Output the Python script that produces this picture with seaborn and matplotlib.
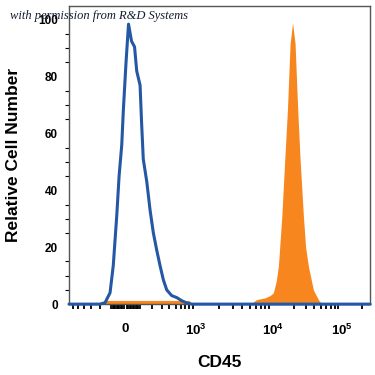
import numpy as np
import pandas as pd
import seaborn as sns
import matplotlib
matplotlib.use('Agg')
import matplotlib.pyplot as plt

# isotype control (blue outline), CD45 fluorescence vs % of max
control_cd45 = [-700, -200, -152, -110, -85, -59, -42, -23, -12, 6.5, 22.8, 42.6, 63, 78, 102,
                113, 126, 154, 182, 212, 245, 281, 320, 363, 435, 520, 618, 732, 874, 260000]
control_count = [0, 0, 0.5, 4, 13.5, 31, 45, 56, 68, 85, 98.5, 92.5, 90.5, 82, 77,
                 64, 51, 43, 33, 25, 19, 13.5, 8.5, 5, 3, 2.3, 1.2, 0.4, 0, 0]

# stained sample (orange filled)
stained_cd45 = [-700, -160, -150, 0, 400, 800, 830, 5074, 6190, 7940, 9220, 10200, 11200, 12060,
                13520, 15090, 16300, 17850, 19390, 21080, 23070, 24920, 27840, 30000, 32900,
                38870, 45940, 51480, 260000]
stained_count = [0, 0, 1.3, 1.3, 1.3, 1.3, 0, 0, 1.6, 2.2, 3, 4, 8, 13.3,
                 30.8, 53, 68, 91.6, 99, 91.6, 68, 51, 31, 20, 13.3,
                 5, 1.6, 0, 0]

y_ticks = [0, 20, 40, 60, 80, 100]
x_ticks = [0, 1e3, 1e4, 1e5]
x_ticklabels = ['0', r'$\mathbf{10^{3}}$', r'$\mathbf{10^{4}}$', r'$\mathbf{10^{5}}$']

# asinh-like display scale, pinned to the decade positions of the original plot
LW = 200.0
G_KNOTS = np.arcsinh(np.array([-700, 0, 1e3, 1e4, 1e5, 2.6e5]) / LW)
P_KNOTS = np.array([69, 125, 196, 272.7, 341.5, 370])


def fwd(v):
    return np.interp(np.arcsinh(np.asarray(v, dtype=float) / LW), G_KNOTS, P_KNOTS)


def inv(p):
    return LW * np.sinh(np.interp(np.asarray(p, dtype=float), P_KNOTS, G_KNOTS))


sns.set_style('white')
plt.rcParams['font.family'] = ['Liberation Sans', 'DejaVu Sans']
plt.rcParams['mathtext.fontset'] = 'custom'
plt.rcParams['mathtext.bf'] = 'Liberation Sans:bold'
plt.rcParams['mathtext.rm'] = 'Liberation Sans'
plt.rcParams['text.color'] = 'black'
plt.rcParams['axes.labelcolor'] = 'black'
plt.rcParams['xtick.color'] = 'black'
plt.rcParams['ytick.color'] = 'black'

ctrl = pd.DataFrame({'CD45': control_cd45, 'count': control_count})
stain = pd.DataFrame({'CD45': stained_cd45, 'count': stained_count})

fig = plt.figure(figsize=(3.75, 3.75), dpi=100)
ax = fig.add_axes([0.184, 0.189, 0.803, 0.796])
ax.set_xscale('function', functions=(fwd, inv))

ax.fill_between(stain['CD45'], stain['count'], color='#f7861f', lw=0, zorder=1)
sns.lineplot(data=ctrl, x='CD45', y='count', ax=ax, color='#2457a4', lw=2.2,
             sort=False, estimator=None, zorder=3, clip_on=False)

ax.set_xlim(-700, 2.6e5)
ax.set_ylim(0, 105)

ax.set_yticks(y_ticks)
ax.set_yticks(np.arange(0, 105, 5), minor=True)
ax.set_xticks(x_ticks)
ax.set_xticklabels(x_ticklabels)
minor_x = list(range(-600, 0, 100)) + list(range(-90, 100, 10)) + list(range(100, 1000, 100)) \
    + list(range(2000, 10000, 1000)) + list(range(20000, 100000, 10000)) + [200000]
ax.set_xticks([m for m in minor_x if m != 0], minor=True)

ax.tick_params(axis='y', which='major', direction='out', length=5, width=2.2,
               labelsize=8.5, pad=3)
ax.tick_params(axis='y', which='minor', direction='out', length=3, width=0.8, left=True)
ax.tick_params(axis='x', which='major', direction='out', length=5.5, width=2.4,
               labelsize=9.5, pad=8)
ax.tick_params(axis='x', which='minor', direction='out', length=3.5, width=1.3, bottom=True)
for lbl in ax.get_yticklabels() + ax.get_xticklabels():
    lbl.set_fontweight('bold')

for side in ['top', 'right', 'left', 'bottom']:
    ax.spines[side].set_color('#555555')
    ax.spines[side].set_linewidth(1.0)

ax.set_xlabel('CD45', fontsize=12.5, fontweight='bold')
ax.set_ylabel('Relative Cell Number', fontsize=12.5, fontweight='bold')
ax.xaxis.set_label_coords(0.5, -0.172)
ax.yaxis.set_label_coords(-0.158, 0.5)

fig.text(0.027, 0.957, 'with permission from R&D Systems', fontsize=9, style='italic',
         family='Liberation Serif', color='#141c33', va='center')

plt.savefig('out.png', dpi=100)
